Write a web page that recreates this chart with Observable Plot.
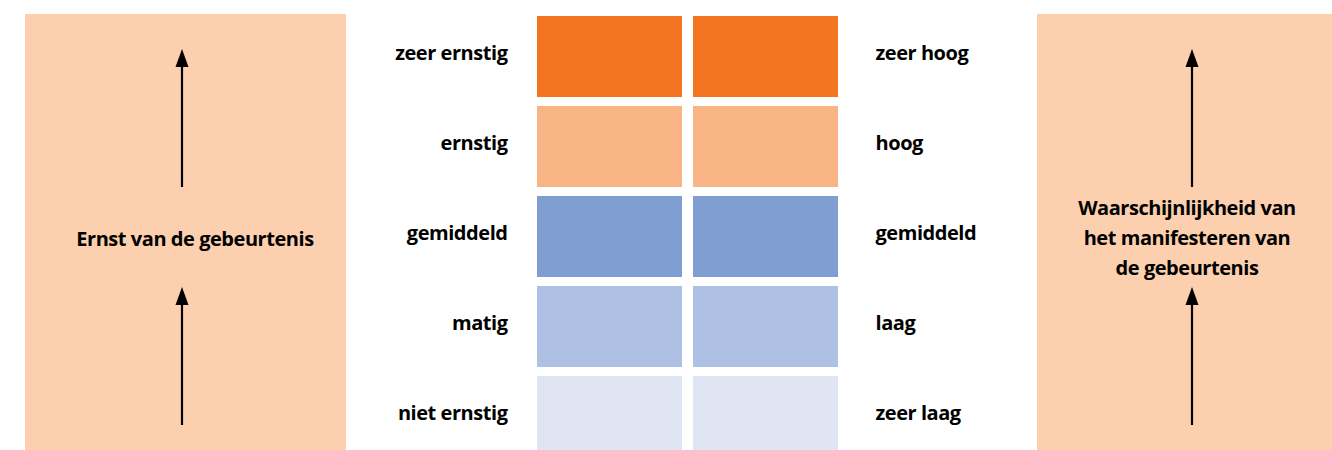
<!DOCTYPE html>
<html>
<head>
<meta charset="utf-8">
<script src="https://cdn.jsdelivr.net/npm/d3@7"></script>
<script src="https://cdn.jsdelivr.net/npm/@observablehq/plot@0.6"></script>
<style>
  html, body { margin: 0; padding: 0; background: #fff; }
  #chart { width: 1332px; height: 450px; overflow: hidden; }
  #chart svg text { letter-spacing: -0.45px; }
</style>
</head>
<body>
<div id="chart"></div>
<script>
// ---- data ----
const scores = [5, 4, 3, 2, 1];
const severityLabels = ["zeer ernstig", "ernstig", "gemiddeld", "matig", "niet ernstig"];
const likelihoodLabels = ["zeer hoog", "hoog", "gemiddeld", "laag", "zeer laag"];
const scoreColors = ["#f37522", "#f9b486", "#7f9fd3", "#aec1e4", "#dfe5f3"];
const dimensions = ["Ernst", "Waarschijnlijkheid"];
const dimensionTitles = [
  ["Ernst van de gebeurtenis"],
  ["Waarschijnlijkheid van", "het manifesteren van", "de gebeurtenis"]
];

const cells = dimensions.flatMap(dim => scores.map(score => ({dim, score})));

// ---- decorations (side panels with arrows and titles) ----
const panelFill = "#fcd0ae";
function sidePanels() {
  const g = d3.create("svg:g");
  const panels = [
    {x0: 25, x1: 346, ax: 182, tx: 195, ty: 239, title: dimensionTitles[0]},
    {x0: 1037, x1: 1358, ax: 1192, tx: 1187, ty: 238, title: dimensionTitles[1]}
  ];
  for (const p of panels) {
    g.append("rect").attr("x", p.x0).attr("y", 14).attr("width", p.x1 - p.x0).attr("height", 460).attr("fill", panelFill);
    for (const [tip, base] of [[49, 187], [287, 425]]) {
      g.append("line").attr("x1", p.ax).attr("x2", p.ax).attr("y1", tip + 14).attr("y2", base)
        .attr("stroke", "#000").attr("stroke-width", 2.2);
      g.append("path").attr("d", `M${p.ax},${tip}L${p.ax - 6.5},${tip + 18}L${p.ax + 6.5},${tip + 18}Z`).attr("fill", "#000");
    }
    const n = p.title.length;
    p.title.forEach((line, i) => {
      g.append("text").attr("x", p.tx).attr("y", p.ty + (i - (n - 1) / 2) * 30)
        .attr("dy", "0.35em").attr("text-anchor", "middle")
        .attr("font-size", 20).attr("font-weight", 700).attr("fill", "#000")
        .text(line);
    });
  }
  return g.node();
}

const chart = Plot.plot({
  width: 1332,
  height: 450,
  marginLeft: 536,
  marginRight: 493,
  marginTop: 14,
  marginBottom: 0,
  style: {fontFamily: "'Open Sans', sans-serif", background: "#fff"},
  x: {type: "band", domain: dimensions, range: [536, 839], paddingInner: 0.07, paddingOuter: 0, axis: null},
  y: {type: "band", domain: scores, range: [14, 459], paddingInner: 0.0964, paddingOuter: 0, axis: null},
  color: {domain: scores, range: scoreColors},
  marks: [
    sidePanels,
    Plot.cell(cells, {x: "dim", y: "score", fill: "score"}),
    Plot.axisY({anchor: "left", tickSize: 0, tickPadding: 29, label: null, dy: -3,
      tickFormat: d => severityLabels[scores.indexOf(d)], fontSize: 20, fontWeight: 700, fill: "#000"}),
    Plot.axisY({anchor: "right", tickSize: 0, tickPadding: 36, label: null, dy: -3,
      tickFormat: d => likelihoodLabels[scores.indexOf(d)], fontSize: 20, fontWeight: 700, fill: "#000"})
  ]
});
document.getElementById("chart").append(chart);
</script>
</body>
</html>
